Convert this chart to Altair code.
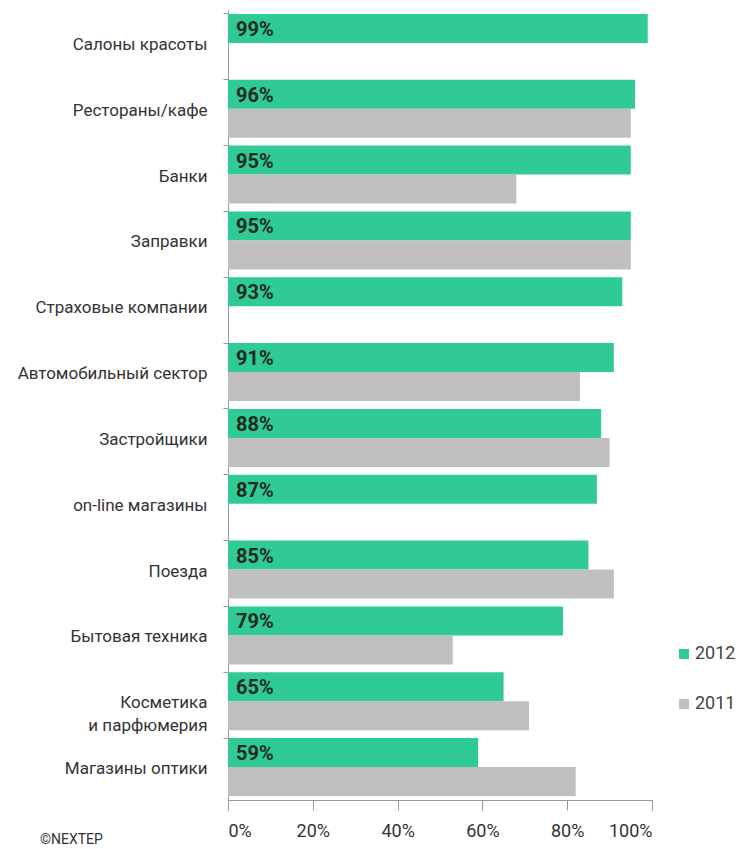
import altair as alt
import pandas as pd

categories = [
    "Салоны красоты", "Рестораны/кафе", "Банки", "Заправки", "Страховые компании",
    "Автомобильный сектор", "Застройщики", "on-line магазины", "Поезда",
    "Бытовая техника", "Косметика\u2002\u2002|и парфюмерия", "Магазины оптики",
]
v2012 = [99, 96, 95, 95, 93, 91, 88, 87, 85, 79, 65, 59]
v2011 = [None, 95, 68, 95, None, 83, 90, None, 91, 53, 71, 82]
series = ["2012", "2011"]
colors = ["#30CA94", "#C0BFBF"]

rows = []
for c, a, b in zip(categories, v2012, v2011):
    rows.append({"cat": c, "series": "2012", "value": a, "label": f"{a}%"})
    if b is not None:
        rows.append({"cat": c, "series": "2011", "value": b, "label": f"{b}%"})
df = pd.DataFrame(rows)

FONT = "Roboto"

base = alt.Chart(df)

bars = base.mark_bar().encode(
    y=alt.Y("cat:N", sort=categories,
            scale=alt.Scale(paddingInner=0.12, paddingOuter=0.06),
            axis=alt.Axis(title=None, labelFontSize=17, labelColor="#333333",
                          labelFont=FONT, labelPadding=16, tickSize=5,
                          tickColor="#999999", domainColor="#999999",
                          bandPosition=0, labelLimit=300, labelOffset=2,
                          labelExpr="split(datum.value, '|')", labelLineHeight=23)),
    yOffset=alt.YOffset("series:N", sort=series, scale=alt.Scale(domain=series)),
    x=alt.X("value:Q", scale=alt.Scale(domain=[0, 100], nice=False),
            axis=alt.Axis(title=None, values=[0, 20, 40, 60, 80, 100],
                          labelExpr="datum.value + '%'", labelFontSize=18,
                          labelFont=FONT, labelColor="#333333", labelPadding=12,
                          tickSize=10, tickColor="#999999", domainColor="#999999",
                          grid=False)),
    color=alt.Color("series:N", sort=series,
                    scale=alt.Scale(domain=series, range=colors),
                    legend=alt.Legend(title=None, orient="none", legendX=447,
                                      legendY=635, symbolType="square",
                                      symbolSize=100, symbolStrokeWidth=0,
                                      labelFontSize=18, labelFont=FONT,
                                      labelColor="#444444", rowPadding=32,
                                      labelOffset=2)),
)

labels = base.transform_filter(alt.datum.series == "2012").mark_text(
    align="left", baseline="middle", dx=8, dy=-13, fontSize=20,
    fontWeight="bold", font=FONT, color="#1E2B22",
).encode(
    y=alt.Y("cat:N", sort=categories),
    x=alt.datum(0),
    text="label:N",
)

credit = alt.Chart(pd.DataFrame({"t": ["©NEXTEP"]})).mark_text(
    align="left", baseline="middle", fontSize=14, font=FONT, color="#333333",
).encode(x=alt.value(-188), y=alt.value(830), text="t:N")

chart = alt.layer(bars, labels, credit).properties(
    width=424, height=790,
    autosize=alt.AutoSizeParams(type="none"),
    padding={"left": 228, "top": 10, "right": 91, "bottom": 49},
).configure_view(stroke=None)

chart.save("out.html", embed_options={"renderer": "svg", "actions": False})
